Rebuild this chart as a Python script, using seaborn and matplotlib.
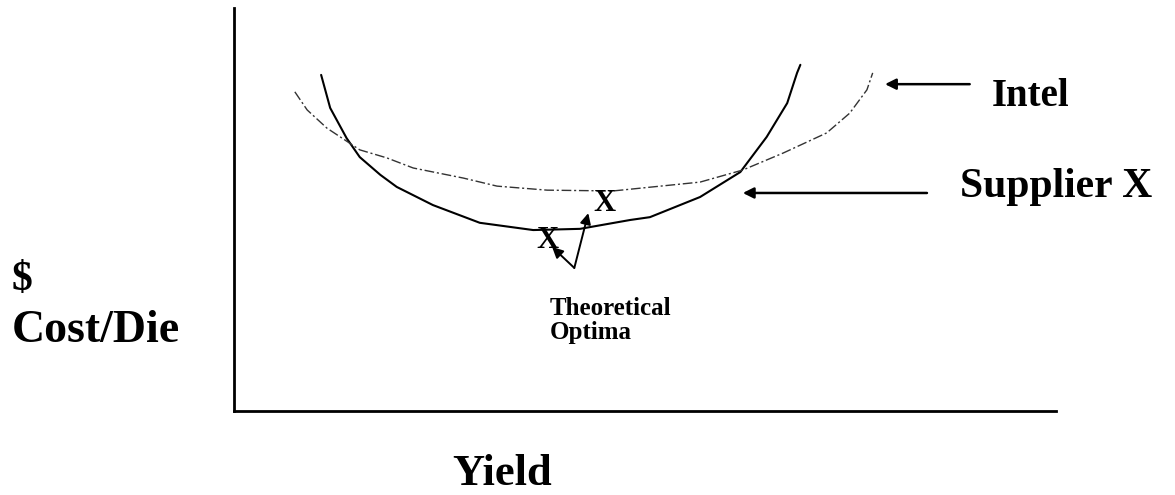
import matplotlib
matplotlib.use("Agg")
import matplotlib.pyplot as plt
import seaborn as sns
import pandas as pd

# curve values (yield vs cost/die, arbitrary units 0-100)
supplier_x = [10.6, 11.7, 13.7, 15.3, 17.8, 19.8, 24.2, 29.9, 36.4, 42.1, 48.2, 50.6, 56.7, 61.6, 64.8, 67.3, 68.5, 68.9]
supplier_y = [83.4, 75.2, 67.7, 63.0, 58.6, 55.6, 51.1, 46.7, 44.9, 45.2, 47.4, 48.1, 53.1, 59.3, 68.0, 76.4, 83.9, 85.9]

intel_x = [7.4, 8.9, 11.3, 15.3, 18.6, 21.8, 27.9, 32.0, 38.1, 46.1, 56.7, 61.9, 66.8, 72.1, 74.9, 77.0, 77.7]
intel_y = [79.2, 74.7, 70.2, 64.8, 62.8, 60.3, 57.8, 55.8, 54.8, 54.6, 56.8, 59.8, 64.0, 69.0, 73.9, 79.7, 83.9]

# theoretical optima marks
optima_x = [38.1, 45.1]
optima_y = [42.2, 51.6]

supplier = pd.DataFrame({"yield": supplier_x, "cost": supplier_y})
intel = pd.DataFrame({"yield": intel_x, "cost": intel_y})

sns.set_style("white")
plt.rcParams['font.family'] = ['Liberation Serif', 'DejaVu Serif']
plt.rcParams['font.weight'] = 'bold'
plt.rcParams['text.color'] = 'black'

fig = plt.figure(figsize=(11.75, 4.95), dpi=100)
ax = fig.add_axes([234 / 1175, 1 - 411 / 495, (1056 - 234) / 1175, (411 - 8) / 495])

sns.lineplot(data=supplier, x="yield", y="cost", sort=False, color="black", lw=1.5, ax=ax)
sns.lineplot(data=intel, x="yield", y="cost", sort=False, color="#333333", lw=1.0,
             linestyle=(0, (7, 2, 1.5, 2)), ax=ax)

ax.set_xlim(0, 100)
ax.set_ylim(0, 100)
ax.set_xticks([])
ax.set_yticks([])
ax.set_xlabel("")
ax.set_ylabel("")
for s in ["top", "right"]:
    ax.spines[s].set_visible(False)
for s in ["left", "bottom"]:
    ax.spines[s].set_color("black")
    ax.spines[s].set_linewidth(2)

# X marks at optima
for ox, oy in zip(optima_x, optima_y):
    ax.text(ox, oy, "X", ha="center", va="center", fontsize=22, fontweight="bold", color="black")

# arrows from the "Theoretical Optima" note to the two X marks
vertex = (41.4, 35.5)
for tip in [(38.7, 40.7), (43.1, 49.1)]:
    ax.annotate("", xy=tip, xytext=vertex,
                arrowprops=dict(arrowstyle="-|>", color="black", lw=1.4, mutation_scale=16,
                                shrinkA=0, shrinkB=0))
ax.text(38.4, 28.3, "Theoretical\nOptima", ha="left", va="top", fontsize=18,
        fontweight="bold", linespacing=1.05)

# series labels with arrows
ax.annotate("", xy=(79.2, 81.1), xytext=(89.5, 81.1), annotation_clip=False,
            arrowprops=dict(arrowstyle="-|>", color="black", lw=1.8, mutation_scale=16,
                            shrinkA=0, shrinkB=0))
ax.text(92.2, 78.0, "Intel", ha="left", va="center", fontsize=28, fontweight="bold", clip_on=False)

ax.annotate("", xy=(61.9, 54.1), xytext=(84.3, 54.1), annotation_clip=False,
            arrowprops=dict(arrowstyle="-|>", color="black", lw=1.8, mutation_scale=16,
                            shrinkA=0, shrinkB=0))
ax.text(88.3, 55.5, "Supplier X", ha="left", va="center", fontsize=30, fontweight="bold", clip_on=False)

# axis labels
fig.text(12 / 1175, 1 - 280 / 495, "$", ha="left", va="center", fontsize=30, fontweight="bold")
fig.text(12 / 1175, 1 - 331 / 495, "Cost/Die", ha="left", va="center", fontsize=33, fontweight="bold")
fig.text(502 / 1175, 1 - 485 / 495, "Yield", ha="center", va="baseline", fontsize=32, fontweight="bold")

fig.savefig("out.png", dpi=100)
